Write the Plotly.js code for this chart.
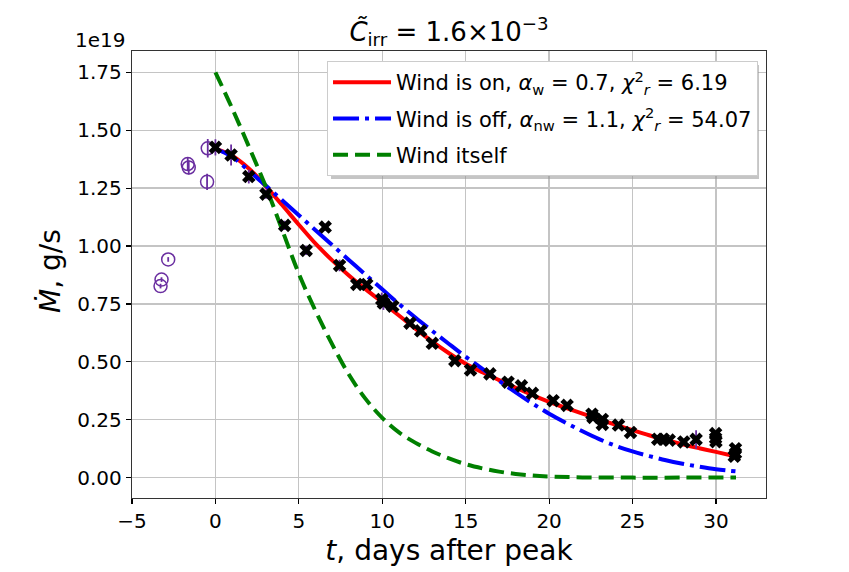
<!DOCTYPE html>
<html>
<head>
<meta charset="utf-8">
<script src="https://cdn.plot.ly/plotly-3.0.1.min.js"></script>
<style>html,body{margin:0;padding:0;background:#fff;}#chart{width:849px;height:572px;}</style>
</head>
<body>
<div id="chart"></div>
<script>
// Mass accretion rate, units of 1e19 g/s
const tPre = [-3.29, -3.23, -2.83, -1.66, -1.60, -0.50, -0.46];
const mPre = [0.827, 0.855, 0.942, 1.354, 1.339, 1.277, 1.422];
const ePre = [0.01, 0.01, 0.01, 0.03, 0.03, 0.035, 0.04];

const tObs = [0, 0.94, 2.0, 3.03, 4.15, 5.44, 6.58, 7.44, 8.47, 9.07, 9.97, 10.07, 10.63, 11.66, 12.3, 13.0,
  14.35, 15.29, 16.45, 17.54, 18.34, 19.0, 20.24, 21.08, 22.57, 22.63, 23.19, 23.19, 24.16, 24.88,
  26.51, 26.85, 27.2, 28.07, 28.81, 29.98, 29.98, 30.0, 31.17, 31.17, 31.1];
const mObs = [1.426, 1.393, 1.300, 1.224, 1.089, 0.981, 1.082, 0.916, 0.834, 0.834, 0.769, 0.754, 0.740, 0.667, 0.634, 0.580,
  0.505, 0.465, 0.448, 0.412, 0.396, 0.364, 0.332, 0.312, 0.274, 0.260, 0.251, 0.230, 0.227, 0.195,
  0.166, 0.166, 0.162, 0.154, 0.165, 0.190, 0.170, 0.155, 0.125, 0.105, 0.092];
const eObs = [0.035, 0.045, 0.03, 0.02, 0.02, 0.02, 0.015, 0.025, 0.012, 0.012, 0.03, 0.03, 0.015, 0.012, 0.012, 0.012,
  0.01, 0.01, 0.01, 0.01, 0.01, 0.01, 0.01, 0.01, 0.01, 0.01, 0.01, 0.01, 0.01, 0.01,
  0.01, 0.01, 0.01, 0.01, 0.04, 0.01, 0.01, 0.01, 0.01, 0.01, 0.01];

const tModel = [0,1,2,3,4,5,6,7,8,9,10,11,12,13,14,15,16,17,18,19,20,21,22,23,24,25,26,27,28,29,30,31.2];
const mWindOn = [1.42,1.39,1.335,1.26,1.177,1.092,1.010,0.938,0.873,0.814,0.757,0.700,0.642,0.587,0.537,0.492,
  0.455,0.421,0.388,0.356,0.327,0.301,0.276,0.252,0.228,0.205,0.183,0.163,0.144,0.127,0.111,0.091];
const mWindOff = [1.42,1.385,1.325,1.262,1.198,1.133,1.068,1.004,0.940,0.876,0.813,0.750,0.690,0.633,0.577,0.522,
  0.470,0.418,0.368,0.320,0.276,0.237,0.200,0.166,0.137,0.113,0.093,0.075,0.060,0.047,0.036,0.027];

const tWind = [0,1,2,3,4,5,6,7,8,9,10,11,12,13,14,15,16,17,18,19,20,22,25,28,31.2];
const mWind = [1.75,1.595,1.43,1.26,1.07,0.88,0.72,0.575,0.445,0.34,0.258,0.195,0.15,0.113,0.083,0.058,
  0.04,0.026,0.016,0.009,0.005,0.001,0,0,0];

const legendNames = [
  'Wind is on, <i>α</i><sub>w</sub> = 0.7, <i>χ</i><sup>2</sup><sub><i>r</i></sub> = 6.19',
  'Wind is off, <i>α</i><sub>nw</sub> = 1.1, <i>χ</i><sup>2</sup><sub><i>r</i></sub> = 54.07',
  'Wind itself'
];

const purple = '#6a2ea0';

const traces = [
  {x: tModel, y: mWindOn, mode: 'lines', name: legendNames[0], legendgroup: 'a',
   line: {color: '#ff0000', width: 4, shape: 'spline'}},
  {x: tModel, y: mWindOff, mode: 'lines', name: legendNames[1], legendgroup: 'b',
   line: {color: '#0000ff', width: 4, shape: 'spline', dash: '26px,6px,4px,6px'}},
  {x: tWind, y: mWind, mode: 'lines', name: legendNames[2], legendgroup: 'c',
   line: {color: '#008000', width: 4, shape: 'spline', dash: '15px,7px'}},
  {x: tPre, y: mPre, mode: 'markers', showlegend: false,
   marker: {symbol: 'circle-open', size: 13, color: purple, line: {width: 1.5, color: purple}},
   error_y: {type: 'data', array: ePre, color: purple, thickness: 1.8, width: 0}},
  {x: tObs, y: mObs, mode: 'markers', showlegend: false,
   marker: {symbol: 'x', size: 12, color: '#000000', line: {width: 0}},
   error_y: {type: 'data', array: eObs, color: purple, thickness: 1.8, width: 0}}
];

const layout = {
  width: 849, height: 572,
  margin: {l: 132, r: 83, t: 51, b: 74},
  paper_bgcolor: '#ffffff', plot_bgcolor: '#ffffff',
  font: {family: 'DejaVu Sans', color: '#000000', size: 20},
  title: {text: '<i>C̃</i><sub>irr</sub> = 1.6×10<sup>−3</sup>', font: {size: 26},
          xref: 'paper', x: 0.5, xanchor: 'center', yref: 'container', y: 0.945, yanchor: 'middle'},
  xaxis: {range: [-5, 33], dtick: 5, tick0: 0, showgrid: true, gridcolor: '#c4c4c4', gridwidth: 1.3,
          zeroline: false, showline: true, linecolor: '#333', linewidth: 1.3, mirror: true,
          ticks: 'outside', ticklen: 5, tickwidth: 1.2, tickcolor: '#000',
          tickfont: {size: 20},
          title: {text: '<i>t</i>, days after peak', font: {size: 28}, standoff: 8}},
  yaxis: {range: [-0.088, 1.842], dtick: 0.25, tick0: 0, tickformat: '.2f', showgrid: true, gridcolor: '#c4c4c4', gridwidth: 1.3,
          zeroline: false, showline: true, linecolor: '#333', linewidth: 1.3, mirror: true,
          ticks: 'outside', ticklen: 5, tickwidth: 1.2, tickcolor: '#000',
          tickfont: {size: 20}},
  legend: {x: 0.3076, y: 0.9776, xanchor: 'left', yanchor: 'top',
           bgcolor: '#ffffff', bordercolor: '#cccccc', borderwidth: 1,
           font: {size: 21}, itemwidth: 58, traceorder: 'grouped', tracegroupgap: 6},
  shapes: [
    {type: 'rect', xref: 'paper', yref: 'paper', x0: 0.3139, x1: 0.989, y0: 0.7136, y1: 0.9687,
     fillcolor: 'rgba(150,150,150,0.55)', line: {width: 0}, layer: 'above'}
  ],
  annotations: [
    {text: '1e19', xref: 'paper', yref: 'paper', x: -0.0935, y: 1.0246, xanchor: 'left', yanchor: 'middle',
     showarrow: false, font: {size: 20}},
    {text: '<i>Ṁ</i>, g/s', xref: 'paper', yref: 'paper', x: -0.1278, y: 0.508, xanchor: 'center', yanchor: 'middle',
     textangle: -90, showarrow: false, font: {size: 28}}
  ]
};

Plotly.newPlot('chart', traces, layout, {displayModeBar: false, staticPlot: true});
</script>
</body>
</html>
